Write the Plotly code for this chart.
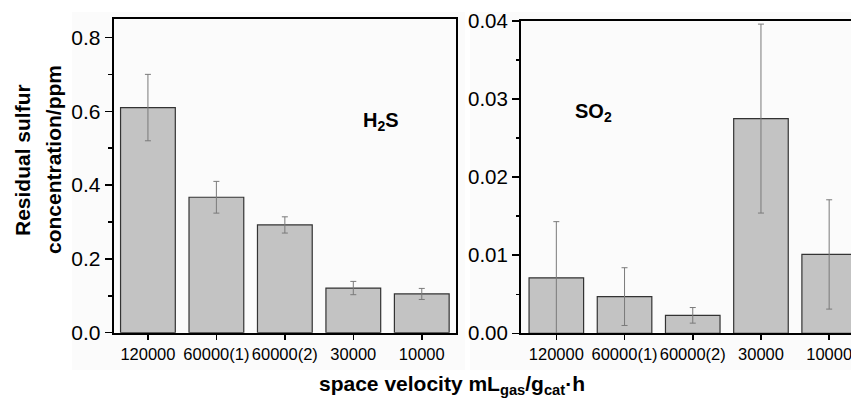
import plotly.graph_objects as go

# ---- data ----
categories = ["120000", "60000(1)", "60000(2)", "30000", "10000"]
h2s_values = [0.610, 0.367, 0.292, 0.121, 0.105]
h2s_errors = [0.090, 0.043, 0.022, 0.018, 0.015]
so2_values = [0.0071, 0.0047, 0.0023, 0.0275, 0.0101]
so2_errors = [0.0072, 0.0037, 0.0010, 0.0121, 0.0070]

W, H = 851, 403
def fx(px):
    return px / W
def fy(py):
    return 1 - py / H

FONT = "Liberation Sans, Arial, sans-serif"
bar_fill = "#c3c3c3"
bar_line = "#333333"
err_color = "#7a7a7a"

fig = go.Figure()
fig.add_trace(go.Bar(
    x=categories, y=h2s_values, width=0.8,
    marker=dict(color=bar_fill, line=dict(color=bar_line, width=1.2)),
    error_y=dict(type="data", array=h2s_errors, color=err_color, thickness=1, width=3),
    xaxis="x", yaxis="y", showlegend=False, hoverinfo="skip",
))
fig.add_trace(go.Bar(
    x=categories, y=so2_values, width=0.8,
    marker=dict(color=bar_fill, line=dict(color=bar_line, width=1.2)),
    error_y=dict(type="data", array=so2_errors, color=err_color, thickness=1, width=3),
    xaxis="x2", yaxis="y2", showlegend=False, hoverinfo="skip",
))

axis_common = dict(
    showline=True, linecolor="black", linewidth=2,
    ticks="outside", tickcolor="black", tickwidth=1.5,
    showgrid=False, zeroline=False, automargin=False,
)

fig.update_layout(
    width=W, height=H,
    margin=dict(l=0, r=0, t=0, b=0),
    paper_bgcolor="white",
    plot_bgcolor="rgba(0,0,0,0)",
    font=dict(family=FONT, color="black"),
    bargap=0.2,
    xaxis=dict(
        domain=[fx(113.7), fx(456)], anchor="y",
        type="category", range=[-0.5, 4.5], mirror=True,
        ticklen=5, tickfont=dict(size=16.5, family=FONT, color="black"),
        **axis_common,
    ),
    yaxis=dict(
        domain=[fy(332.7), fy(19)], anchor="x",
        range=[0, 0.85], dtick=0.2, tick0=0, tickformat=".1f", mirror=True,
        ticklen=7, tickfont=dict(size=21, family=FONT, color="black"),
        minor=dict(dtick=0.1, ticks="outside", ticklen=3.5, tickcolor="black", tickwidth=1.5),
        **axis_common,
    ),
    xaxis2=dict(
        domain=[fx(521), 1.0], anchor="y2",
        type="category", range=[-0.518, 4.32], mirror=True,
        ticklen=5, tickfont=dict(size=16.5, family=FONT, color="black"),
        **axis_common,
    ),
    yaxis2=dict(
        domain=[fy(333.3), fy(21)], anchor="x2",
        range=[0, 0.04], dtick=0.01, tick0=0, tickformat=".2f", mirror=False,
        ticklen=7, tickfont=dict(size=20.5, family=FONT, color="black"),
        minor=dict(dtick=0.005, ticks="outside", ticklen=3.5, tickcolor="black", tickwidth=1.5),
        **axis_common,
    ),
    shapes=[
        dict(type="rect", xref="paper", yref="paper", layer="below",
             x0=fx(72), x1=fx(465), y0=fy(370), y1=fy(12),
             fillcolor="#fbfbfb", line=dict(width=0)),
        dict(type="rect", xref="paper", yref="paper", layer="below",
             x0=fx(470), x1=1.0, y0=fy(370), y1=fy(12),
             fillcolor="#fbfbfb", line=dict(width=0)),
    ],
    annotations=[
        dict(text="<b>Residual sulfur</b>", xref="paper", yref="paper",
             x=fx(22), y=fy(160), textangle=-90, showarrow=False,
             xanchor="center", yanchor="middle",
             font=dict(size=21, family=FONT, color="black")),
        dict(text="<b>concentration/ppm</b>", xref="paper", yref="paper",
             x=fx(53), y=fy(160), textangle=-90, showarrow=False,
             xanchor="center", yanchor="middle",
             font=dict(size=21, family=FONT, color="black")),
        dict(text="<b>space velocity mL<sub>gas</sub>/g<sub>cat</sub>·h</b>",
             xref="paper", yref="paper", x=fx(452), y=fy(385),
             showarrow=False, xanchor="center", yanchor="middle",
             font=dict(size=21, family=FONT, color="black")),
        dict(text="<b>H<sub>2</sub>S</b>", xref="paper", yref="paper",
             x=fx(381), y=fy(121), showarrow=False,
             xanchor="center", yanchor="middle",
             font=dict(size=20, family=FONT, color="black")),
        dict(text="<b>SO<sub>2</sub></b>", xref="paper", yref="paper",
             x=fx(593), y=fy(113), showarrow=False,
             xanchor="center", yanchor="middle",
             font=dict(size=20, family=FONT, color="black")),
    ],
)

fig.write_html(
    "out.html",
    config={"displayModeBar": False, "staticPlot": True},
    post_script="document.body.style.margin='0';document.body.style.padding='0';"
                "document.documentElement.style.overflow='hidden';",
)
